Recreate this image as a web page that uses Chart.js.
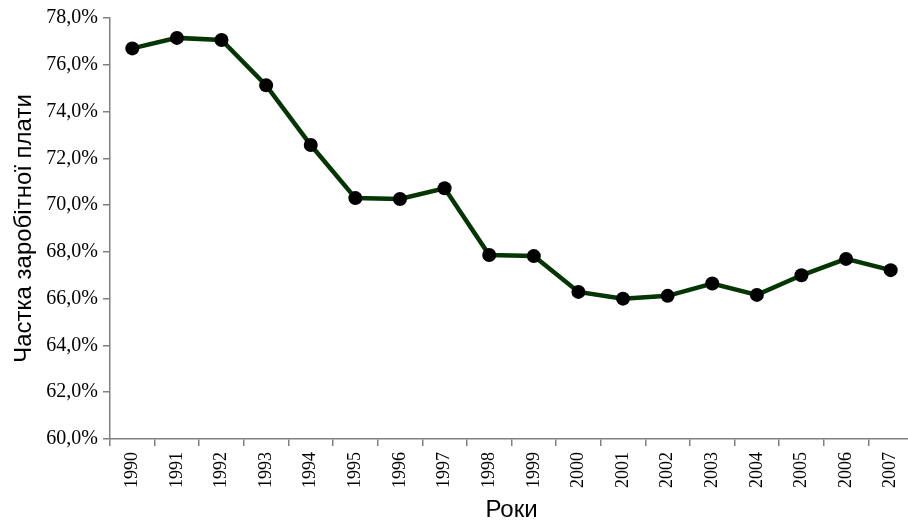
<!DOCTYPE html>
<html>
<head>
<meta charset="utf-8">
<script src="https://cdn.jsdelivr.net/npm/chart.js@4"></script>
<style>
  html, body { margin: 0; padding: 0; background: #fff; overflow: hidden; }
  #wrap { width: 920px; height: 525px; }
</style>
</head>
<body>
<div id="wrap"><canvas id="mycanvas"></canvas></div>
<script>
// роки та частка заробітної плати, %
var years = ["1990","1991","1992","1993","1994","1995","1996","1997","1998",
             "1999","2000","2001","2002","2003","2004","2005","2006","2007"];
var wageShare = [76.7, 77.15, 77.06, 75.12, 72.57, 70.3, 70.26, 70.72, 67.87,
                 67.82, 66.29, 66.0, 66.12, 66.65, 66.16, 67.0, 67.7, 67.22];
var yTicks = [60, 62, 64, 66, 68, 70, 72, 74, 76, 78];

var ctx = document.getElementById("mycanvas");

var chart = new Chart(ctx, {
  type: 'line',
  data: {
    labels: years,
    datasets: [{
      label: "Частка заробітної плати",
      data: wageShare,
      borderColor: "#043604",
      borderWidth: 4.5,
      tension: 0,
      fill: false,
      pointRadius: 7,
      pointBackgroundColor: "#000",
      pointBorderColor: "#000",
      pointBorderWidth: 0
    }]
  },
  options: {
    responsive: true,
    maintainAspectRatio: false,
    animation: false,
    layout: { padding: { top: 18, left: 0, right: 0, bottom: 0 } },
    plugins: { legend: { display: false }, tooltip: { enabled: false } },
    scales: {
      x: {
        offset: true,
        grid: { offset: true, drawOnChartArea: false, tickLength: 7, color: "#808080", lineWidth: 1.5 },
        border: { color: "#808080", width: 1.5 },
        ticks: {
          color: "#000", maxRotation: 90, minRotation: 90, padding: 6,
          font: { family: "'Liberation Serif', 'Times New Roman', serif", size: 18 }
        },
        title: {
          display: true, text: "Роки", color: "#000", padding: 0,
          font: { family: "'Liberation Sans', Arial, sans-serif", size: 24 }
        },
        afterFit: function(s) { s.height = 86; }
      },
      y: {
        min: yTicks[0],
        max: yTicks[yTicks.length - 1],
        afterBuildTicks: function(s) { s.ticks = yTicks.map(function(v){ return { value: v }; }); },
        grid: { drawOnChartArea: false, tickLength: 7, color: "#808080", lineWidth: 1.5 },
        border: { color: "#808080", width: 1.5 },
        ticks: {
          color: "#000", padding: 5,
          font: { family: "'Liberation Serif', 'Times New Roman', serif", size: 20 },
          callback: function(v) { return v.toFixed(1).replace('.', ',') + '%'; }
        },
        title: {
          display: true, text: "Частка заробітної плати", color: "#000", padding: { top: 10, bottom: 0 },
          font: { family: "'Liberation Sans', Arial, sans-serif", size: 24 }
        },
        afterFit: function(s) { s.width = 110; }
      }
    }
  }
});
</script>
</body>
</html>
